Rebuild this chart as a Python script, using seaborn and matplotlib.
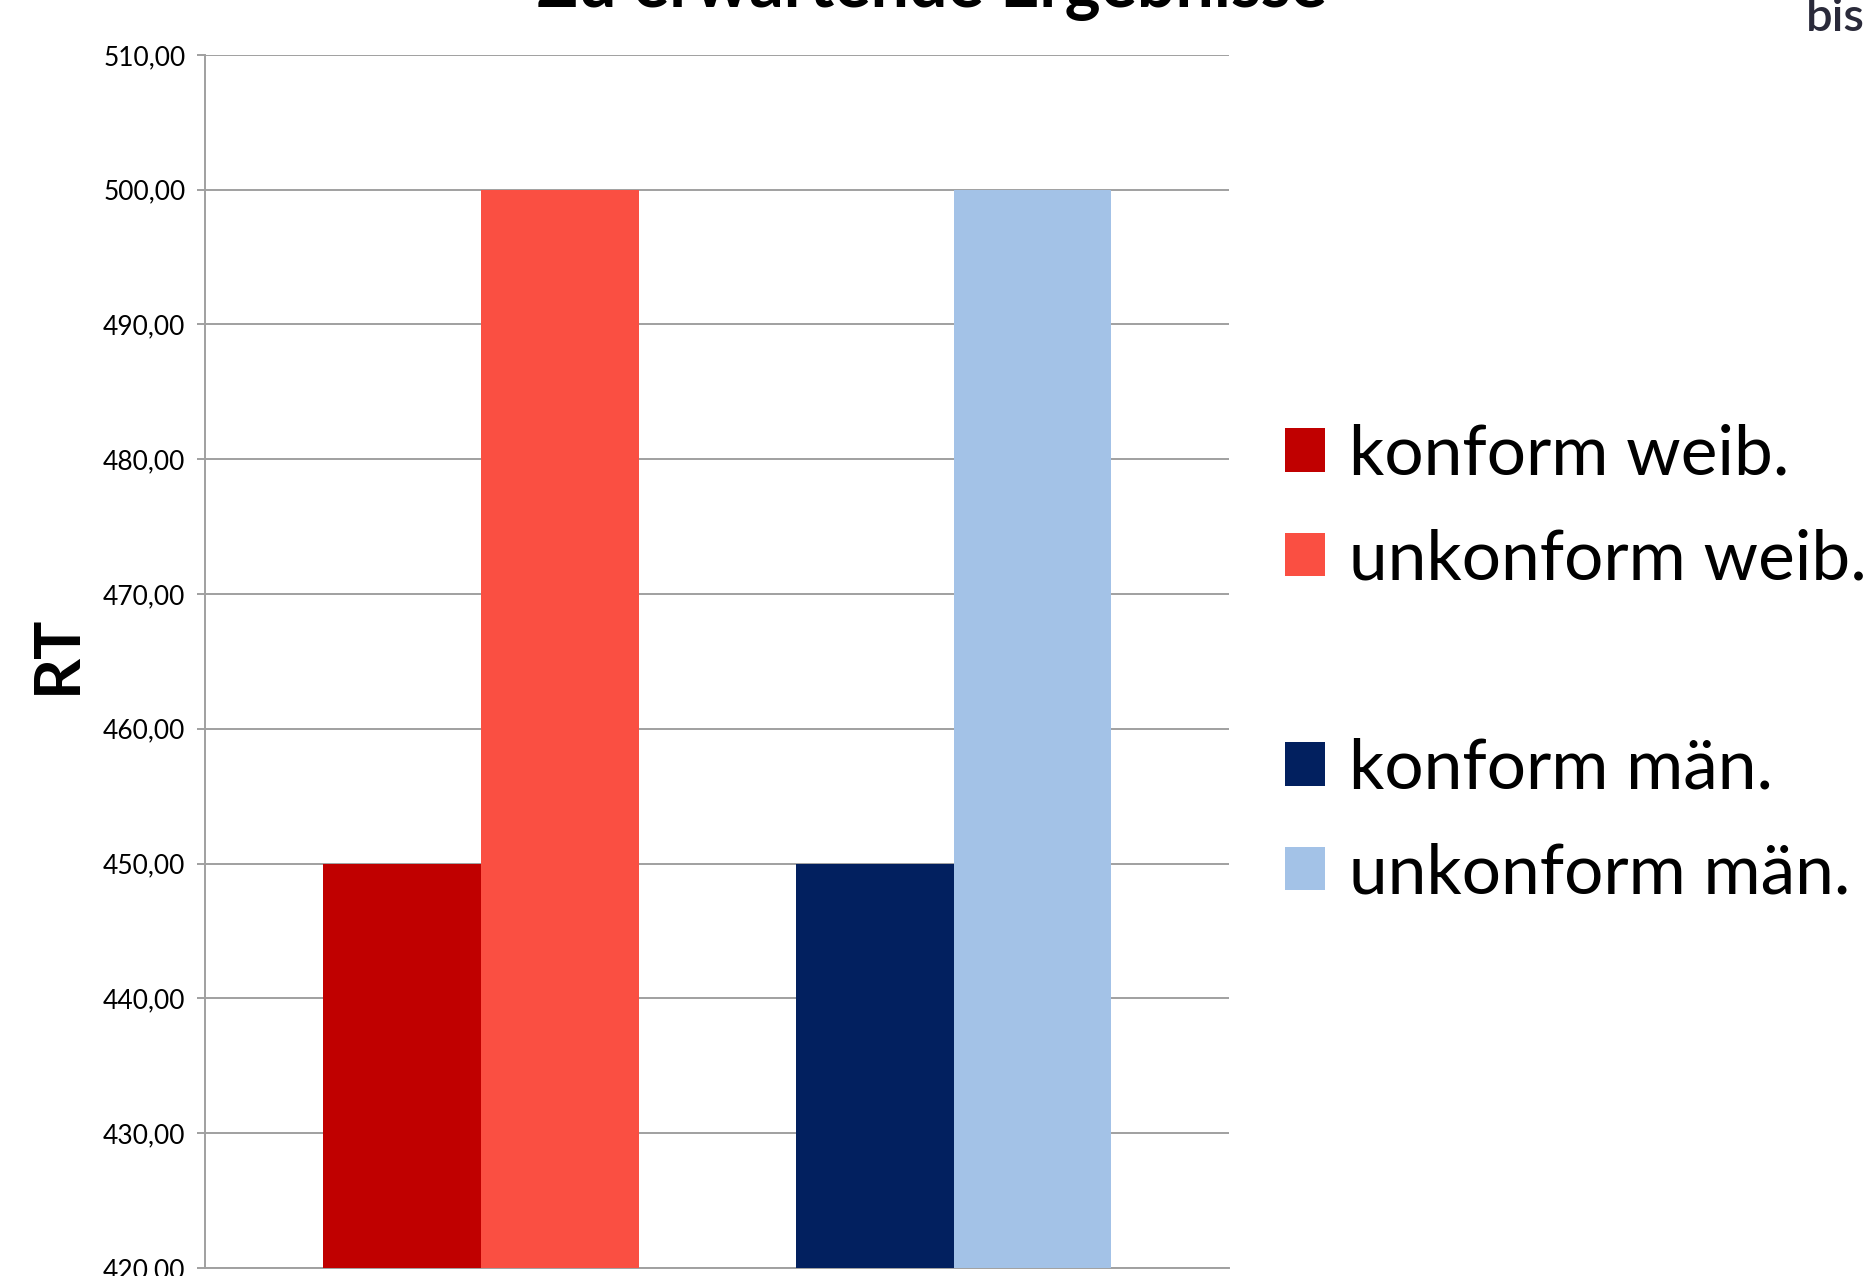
import matplotlib
matplotlib.use("Agg")
import matplotlib.pyplot as plt
import seaborn as sns
import pandas as pd
from matplotlib.patches import Patch
from matplotlib.ticker import FuncFormatter, MultipleLocator

# ---- data ----
groups = ["weib.", "män."]
conditions = ["konform", "unkonform"]
rt_konform = [450, 450]
rt_unkonform = [500, 500]
legend_labels = ["konform weib.", "unkonform weib.", "konform män.", "unkonform män."]
bar_colors = ["#C00000", "#FA4F42", "#02205F", "#A3C2E7"]
title = "Zu erwartende Ergebnisse"
y_label = "RT"

df = pd.DataFrame({
    "Geschlecht": groups * 2,
    "Bedingung": [conditions[0]] * 2 + [conditions[1]] * 2,
    "RT": rt_konform + rt_unkonform,
})

sns.set_theme(style="white")
plt.rcParams["font.family"] = ["Lato", "DejaVu Sans"]
plt.rcParams["text.color"] = "black"

fig = plt.figure(figsize=(18.67, 12.76), dpi=100)
ax = fig.add_axes([0.1097, 0.0063, 0.5485, 0.9507])

sns.barplot(data=df, x="Geschlecht", y="RT", hue="Bedingung", order=groups,
            hue_order=conditions, width=0.667, errorbar=None, legend=False,
            ax=ax, zorder=3)

bars = sorted(ax.patches, key=lambda p: p.get_x())
for p, c in zip(bars, bar_colors):
    p.set_facecolor(c)
    p.set_edgecolor("none")

ax.set_ylim(420, 510)
ax.set_xlim(-0.584, 1.582)
ax.yaxis.set_major_locator(MultipleLocator(10))
ax.yaxis.set_major_formatter(FuncFormatter(lambda v, _: f"{v:.2f}".replace(".", ",")))
ax.grid(axis="y", color="#A0A0A0", linewidth=1.4, zorder=0)
ax.set_axisbelow(True)
ax.set_xticks([])
ax.set_xlabel("")
ax.set_ylabel("")
for s in ["top", "right"]:
    ax.spines[s].set_visible(False)
for s in ["left", "bottom"]:
    ax.spines[s].set_color("#A0A0A0")
    ax.spines[s].set_linewidth(1.4)
ax.tick_params(axis="y", which="major", left=True, direction="out", length=6, width=1.4,
               color="#A0A0A0", pad=8, labelsize=19, labelcolor="black")

fig.text(0.0305, 0.487, y_label, rotation=90, ha="center", va="center",
         fontsize=46, fontweight="bold", color="black")

fig.text(0.499, 1 - 7 / 1276, title, ha="center", va="baseline",
         fontsize=49, fontweight="bold", color="black")
fig.text(1806 / 1867, 1 - 31 / 1276, "bis", ha="left", va="baseline",
         fontsize=34, fontweight="semibold", color="#2A2A3A")

handles = [Patch(facecolor=bar_colors[0], edgecolor="none"),
           Patch(facecolor=bar_colors[1], edgecolor="none"),
           Patch(facecolor="none", edgecolor="none"),
           Patch(facecolor=bar_colors[2], edgecolor="none"),
           Patch(facecolor=bar_colors[3], edgecolor="none")]
labels = [legend_labels[0], legend_labels[1], " ", legend_labels[2], legend_labels[3]]
fig.legend(handles, labels, loc="center left", bbox_to_anchor=(1285 / 1867, 0.4793),
           frameon=False, fontsize=50, borderpad=0, borderaxespad=0,
           handlelength=0.58, handleheight=0.58, handletextpad=0.34, labelspacing=0.60)

fig.savefig("out.png", dpi=100)
